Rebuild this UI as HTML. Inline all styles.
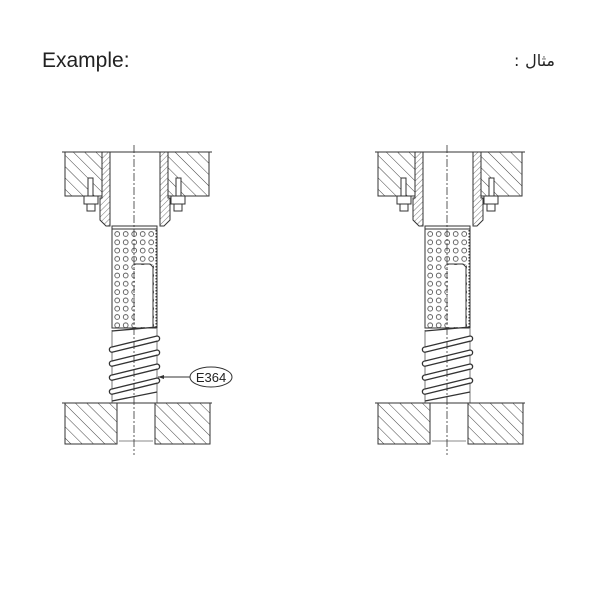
<!DOCTYPE html>
<html><head><meta charset="utf-8"><style>
html,body{margin:0;padding:0;background:#fff;}
svg{display:block;}
</style></head><body>
<svg width="600" height="600" viewBox="0 0 600 600" xmlns="http://www.w3.org/2000/svg">
<defs>
<pattern id="h" patternUnits="userSpaceOnUse" width="8" height="8" patternTransform="rotate(-45)">
<rect width="8" height="8" fill="#fff"/><line x1="0" y1="0" x2="0" y2="8" stroke="#444" stroke-width="1"/>
</pattern>
<pattern id="hs" patternUnits="userSpaceOnUse" width="4" height="4" patternTransform="rotate(45)">
<rect width="4" height="4" fill="#fff"/><line x1="0" y1="0" x2="0" y2="4" stroke="#555" stroke-width="0.8"/>
</pattern>
<pattern id="holes" patternUnits="userSpaceOnUse" x="113" y="230" width="8.5" height="8.3">
<circle cx="4.2" cy="4" r="2.4" fill="none" stroke="#555" stroke-width="0.9"/>
</pattern>
<g id="asm" stroke="#333" stroke-width="1" fill="none">
  <rect x="65" y="152" width="37" height="44" fill="url(#h)"/>
  <rect x="168" y="152" width="41" height="44" fill="url(#h)"/>
  <line x1="62" y1="152" x2="212" y2="152"/>
  <path d="M102 152 H110 V226 H106 L100 220 V198 H102 Z" fill="url(#hs)"/>
  <path d="M160 152 H168 V198 H170 V220 L164 226 H160 Z" fill="url(#hs)"/>
  <g>
    <rect x="88" y="178" width="5" height="18" fill="#fff"/>
    <rect x="84" y="196" width="14" height="8" fill="#fff"/>
    <rect x="87" y="204" width="8" height="7" fill="#fff"/>
    <rect x="176" y="178" width="5" height="18" fill="#fff"/>
    <rect x="171" y="196" width="14" height="8" fill="#fff"/>
    <rect x="174" y="204" width="8" height="7" fill="#fff"/>
  </g>
  <rect x="112" y="226" width="45" height="102" fill="url(#holes)"/>
  <rect x="112" y="226" width="45" height="3" fill="#fff"/>
  <line x1="114" y1="229" x2="134" y2="229"/>
  <rect x="135" y="265" width="18" height="62" fill="#fff" stroke="none"/>
  <path d="M134 264 H150 L153 267 V328"/>
  <line x1="156" y1="230" x2="156" y2="328" stroke-dasharray="1.5,1.5"/>
  <line x1="112" y1="330" x2="112" y2="403" stroke="#777"/>
  <line x1="157" y1="328" x2="157" y2="403" stroke="#777"/>
  <g stroke-width="1.3" fill="#fff">
    <path d="M112 331 L157 327"/>
    <path d="M112 347 L157 336 a2.6 2.6 0 0 1 0 5.2 L112 352.2 a2.6 2.6 0 0 1 0 -5.2 Z"/>
    <path d="M112 361 L157 350 a2.6 2.6 0 0 1 0 5.2 L112 366.2 a2.6 2.6 0 0 1 0 -5.2 Z"/>
    <path d="M112 375 L157 364 a2.6 2.6 0 0 1 0 5.2 L112 380.2 a2.6 2.6 0 0 1 0 -5.2 Z"/>
    <path d="M112 389 L157 378 a2.6 2.6 0 0 1 0 5.2 L112 394.2 a2.6 2.6 0 0 1 0 -5.2 Z"/>
    <path d="M112 401 L157 392"/>
  </g>
  <rect x="65" y="403" width="52" height="41" fill="url(#h)"/>
  <rect x="155" y="403" width="55" height="41" fill="url(#h)"/>
  <line x1="62" y1="403" x2="212" y2="403"/>
  <line x1="117" y1="403" x2="117" y2="444"/><line x1="155" y1="403" x2="155" y2="444"/>
  <line x1="119" y1="441" x2="153" y2="441" stroke="#888"/>
  <line x1="134" y1="145" x2="134" y2="455" stroke-dasharray="8,2,2,2" stroke-width="0.8"/>
</g>
</defs>
<use href="#asm"/>
<use href="#asm" transform="translate(313,0)"/>
<line x1="158" y1="377" x2="190" y2="377" stroke="#333" stroke-width="1"/>
<path d="M158 377 l6 -2 v4 z" fill="#333"/>
<ellipse cx="211" cy="377" rx="21" ry="10" fill="#fff" stroke="#333" stroke-width="1"/>
<text x="211" y="382" text-anchor="middle" font-family="Liberation Sans, sans-serif" font-size="13" fill="#222">E364</text>
<text x="42" y="67" font-family="Liberation Sans, sans-serif" font-size="21" fill="#222">Example:</text>
<text x="555" y="66" text-anchor="end" font-family="DejaVu Sans, sans-serif" font-size="16" fill="#222">مثال</text>
<text x="514" y="66" font-family="DejaVu Sans, sans-serif" font-size="16" fill="#222">:</text>
</svg>
</body></html>
